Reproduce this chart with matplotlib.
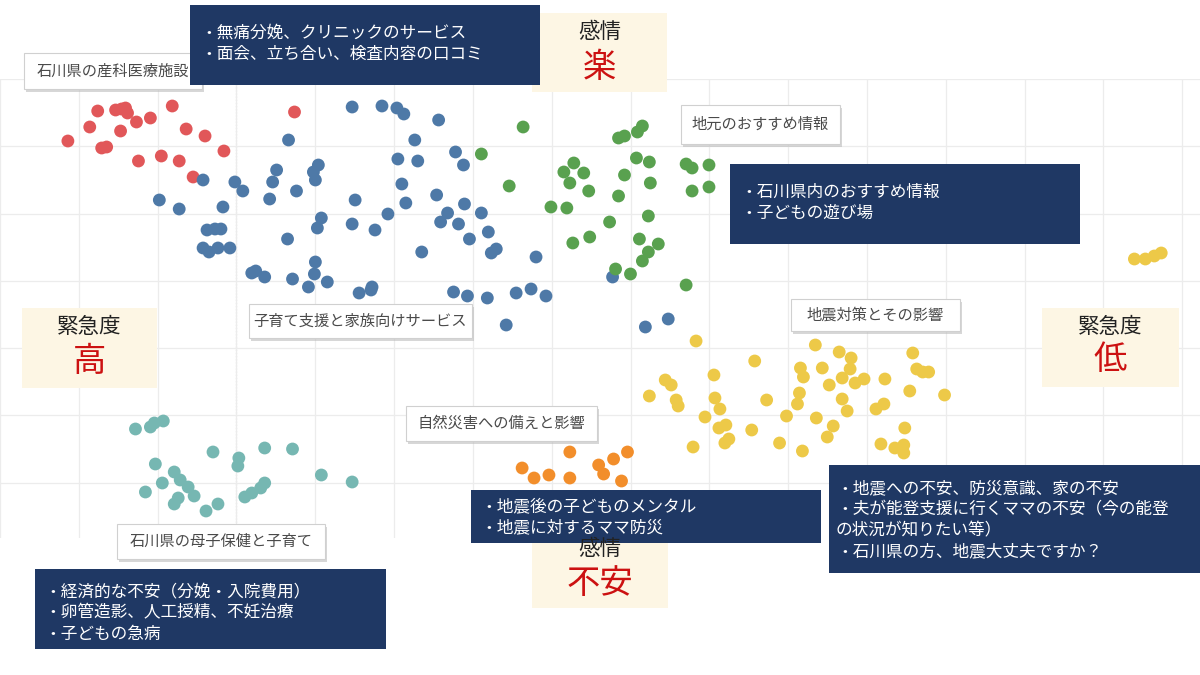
import numpy as np
import matplotlib.pyplot as plt
from matplotlib.patches import Rectangle

plt.rcParams['font.family'] = ['Noto Sans CJK JP', 'DejaVu Sans']

# クラスタごとの座標（マップ上の位置）
red_x = [61, 83, 91, 109, 115, 119, 121, 114, 130, 144, 166, 180, 199, 218, 95, 100, 132, 155, 173, 187, 289]
red_y = [141, 127, 111, 110, 109, 108, 113, 131, 122, 118, 106, 129, 136, 151, 148, 147, 161, 156, 161, 177, 112]

blue_x = [347, 377, 392, 399, 434, 283, 410, 451, 459, 393, 413, 397, 271, 267, 308, 313, 310, 291, 264, 197,
          229, 237, 153, 173, 217, 350, 401, 432, 460, 477, 316, 312, 282, 347, 370, 383, 436, 443, 454, 484,
          465, 417, 487, 492, 532, 201, 209, 215, 197, 203, 212, 224, 246, 250, 259, 287, 309, 310, 322, 303,
          354, 366, 367, 449, 463, 483, 512, 527, 542, 502, 609, 642, 665]
blue_y = [107, 106, 108, 114, 120, 140, 140, 152, 165, 159, 161, 184, 170, 182, 172, 165, 180, 191, 199, 180,
          182, 191, 200, 209, 207, 200, 203, 195, 204, 213, 218, 228, 239, 224, 230, 214, 222, 213, 224, 232,
          239, 252, 253, 249, 257, 230, 229, 229, 248, 252, 248, 248, 273, 271, 277, 279, 274, 262, 282, 287,
          293, 290, 287, 292, 296, 298, 293, 289, 296, 325, 277, 327, 319]

green_x = [519, 477, 505, 570, 560, 580, 566, 585, 547, 563, 569, 586, 615, 621, 634, 639, 633, 646, 683, 689,
           706, 621, 647, 615, 689, 706, 645, 606, 636, 655, 645, 639, 612, 627, 683]
green_y = [127, 154, 186, 163, 172, 173, 183, 191, 207, 208, 243, 237, 138, 136, 132, 126, 158, 162, 164, 168,
           165, 175, 183, 196, 191, 187, 216, 222, 239, 244, 252, 261, 269, 274, 285]

teal_x = [129, 144, 148, 157, 207, 233, 232, 259, 287, 149, 168, 174, 182, 188, 156, 139, 172, 168, 200, 212,
          239, 246, 255, 259, 316, 347]
teal_y = [429, 427, 423, 421, 452, 458, 466, 448, 449, 464, 472, 480, 487, 496, 483, 492, 498, 504, 511, 504,
          497, 493, 488, 483, 475, 482]

orange_x = [566, 518, 530, 545, 566, 595, 600, 610, 624, 618]
orange_y = [452, 468, 478, 475, 478, 465, 474, 459, 452, 481]

yellow_x = [693, 813, 837, 849, 911, 752, 798, 801, 820, 848, 840, 853, 862, 883, 915, 921, 927, 711, 662, 668,
            827, 908, 943, 646, 673, 675, 712, 764, 797, 795, 840, 882, 874, 845, 717, 702, 784, 814, 831, 723,
            716, 749, 903, 726, 722, 825, 777, 690, 800, 879, 893, 902, 902,
            1134, 1145, 1154, 1161]
yellow_y = [341, 345, 352, 358, 353, 361, 368, 377, 368, 369, 378, 383, 379, 379, 369, 372, 372, 375, 380, 385,
            385, 391, 395, 396, 400, 406, 398, 400, 393, 404, 399, 404, 409, 411, 409, 417, 416, 418, 426, 425,
            428, 430, 428, 439, 443, 437, 443, 447, 451, 444, 448, 445, 453,
            259, 259, 256, 253]

clusters = [
    (red_x, red_y, '#e15759'),
    (blue_x, blue_y, '#4e79a7'),
    (green_x, green_y, '#59a14f'),
    (teal_x, teal_y, '#76b7b2'),
    (orange_x, orange_y, '#f28e2b'),
    (yellow_x, yellow_y, '#edc948'),
]

W, H = 1200, 675
fig = plt.figure(figsize=(12, 6.75), dpi=100)

# 散布図（背景のグリッド付き）
top, bottom = 79, 538
ax = fig.add_axes([0, (H - bottom) / H, 1, (bottom - top) / H])
for xs, ys, c in clusters:
    ax.scatter(xs, ys, s=85, color=c, edgecolors='none', zorder=3)
ax.set_xlim(0, W)
ax.set_ylim(bottom, top)
ax.set_xticks(np.arange(72 - 79.3, W, 79.3))
ax.set_yticks(np.arange(top, bottom, 67.3))
ax.grid(True, color='#ececec', lw=0.9)
ax.axvline(230, color='#cfcfcf', lw=0.9, ls=(0, (1, 1.5)), zorder=1)
ax.tick_params(length=0, labelbottom=False, labelleft=False)
for sp in ax.spines.values():
    sp.set_visible(False)

# 注釈用のオーバーレイ（ピクセル座標）
ov = fig.add_axes([0, 0, 1, 1], zorder=5)
ov.set_xlim(0, W)
ov.set_ylim(H, 0)
ov.axis('off')
ov.patch.set_alpha(0)

NAVY = '#1f3864'
CREAM = '#fdf6e4'
RED = '#cc1111'


def label_box(x0, y0, x1, y1, text):
    ov.add_patch(Rectangle((x0 + 2, y0 + 3), x1 - x0, y1 - y0, color='#bdbdbd', alpha=0.6, lw=0))
    ov.add_patch(Rectangle((x0, y0), x1 - x0, y1 - y0, facecolor='white', edgecolor='#d0d0d0', lw=0.8))
    ov.text((x0 + x1) / 2, (y0 + y1) / 2, text, ha='center', va='center', fontsize=11, color='#4a4a4a')


def navy_box(x0, y0, x1, y1, tx, lines_y, lines):
    ov.add_patch(Rectangle((x0, y0), x1 - x0, y1 - y0, facecolor=NAVY, edgecolor='none'))
    for ly, t in zip(lines_y, lines):
        ov.text(tx, ly, t, ha='left', va='center', fontsize=12, color='white')


def cream_box(x0, y0, x1, y1, y_top, y_big, top_text, big_text):
    ov.add_patch(Rectangle((x0, y0), x1 - x0, y1 - y0, facecolor=CREAM, edgecolor='none'))
    cx = (x0 + x1) / 2
    ov.text(cx, y_top, top_text, ha='center', va='center', fontsize=15.5, color='#222222')
    ov.text(cx, y_big, big_text, ha='center', va='center', fontsize=24, color=RED)


# 軸の意味を示すボックス
cream_box(532, 13, 667, 92, 32, 67, '感情', '楽')
cream_box(532, 530, 668, 608, 549, 584, '感情', '不安')
cream_box(22, 308, 157, 388, 327, 362, '緊急度', '高')
cream_box(1042, 308, 1179, 387, 327, 360, '緊急度', '低')

# クラスタ名
label_box(24, 53, 202, 89, '石川県の産科医療施設')
label_box(681, 105, 840, 144, '地元のおすすめ情報')
label_box(249, 304, 472, 338, '子育て支援と家族向けサービス')
label_box(791, 299, 960, 331, '地震対策とその影響')
label_box(406, 406, 597, 441, '自然災害への備えと影響')
label_box(117, 524, 325, 559, '石川県の母子保健と子育て')

# 話題の要約
navy_box(190, 5, 540, 85, 200, [33, 54],
         ['・無痛分娩、クリニックのサービス', '・面会、立ち合い、検査内容の口コミ'])
navy_box(730, 164, 1080, 244, 740, [192, 213],
         ['・石川県内のおすすめ情報', '・子どもの遊び場'])
navy_box(471, 490, 821, 543, 480, [507, 528],
         ['・地震後の子どものメンタル', '・地震に対するママ防災'])
navy_box(829, 465, 1200, 573, 836, [489, 510, 531, 552],
         ['・地震への不安、防災意識、家の不安', '・夫が能登支援に行くママの不安（今の能登',
          'の状況が知りたい等）', '・石川県の方、地震大丈夫ですか？'])
navy_box(35, 569, 386, 649, 44, [592, 613, 634],
         ['・経済的な不安（分娩・入院費用）', '・卵管造影、人工授精、不妊治療', '・子どもの急病'])

fig.savefig('out.png', dpi=100)
